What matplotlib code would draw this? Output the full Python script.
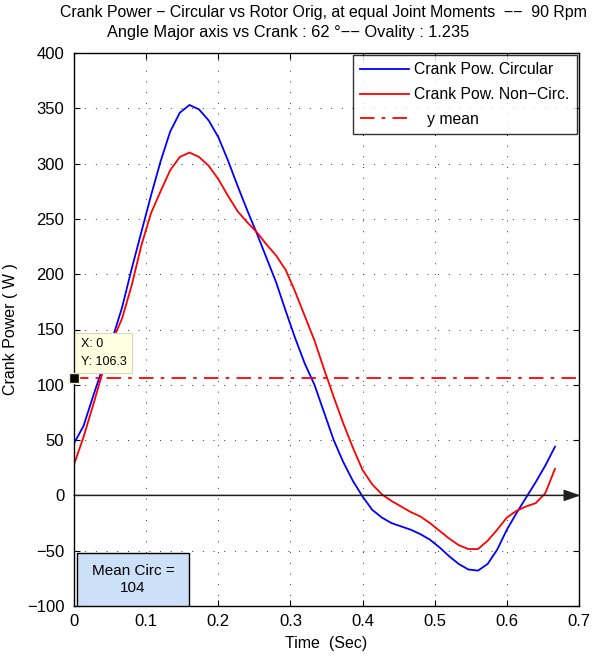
import numpy as np
import matplotlib
matplotlib.use("Agg")
import matplotlib.pyplot as plt
from matplotlib.patches import FancyBboxPatch

plt.rcParams['font.family'] = ['Liberation Sans', 'DejaVu Sans']

# ==== data (one crank revolution at 90 rpm, 51 samples)
n_samples = 51
period = 60.0 / 90.0
time = np.arange(n_samples) * period / (n_samples - 1)

pow_circular = [47, 63, 90, 116, 142, 170, 205, 238, 271, 302,
                329, 346, 353, 349, 339, 324, 303, 280, 258, 237,
                215, 193, 167, 142, 119, 100, 75, 50, 30, 13,
                -1, -13, -20, -25, -28, -31, -35, -40, -47, -55,
                -62, -67, -68, -62, -49, -31, -16, -2, 12, 27, 44]

pow_non_circ = [28, 53, 82, 112, 140, 160, 190, 226, 255, 275,
                294, 306, 310, 306, 298, 286, 271, 257, 247, 238,
                227, 217, 204, 184, 162, 140, 114, 89, 65, 43,
                23, 10, 1, -5, -10, -15, -19, -25, -32, -39,
                -45, -48.5, -48.5, -41, -31, -20, -14, -10, -7, 2, 24]

y_mean = 106.3
mean_circ = 104

legend_labels = ["Crank Pow. Circular", "Crank Pow. Non\u2212Circ.", "   y mean"]

# ==== figure
fig = plt.figure(figsize=(5.94, 6.57), dpi=100)
ax = fig.add_axes([74 / 594, 1 - 606 / 657, 505 / 594, 553 / 657])

ax.plot(time, pow_circular, color=(0, 0, 1), lw=1.3, label=legend_labels[0])
ax.plot(time, pow_non_circ, color=(1, 0, 0), lw=1.3, label=legend_labels[1])
ax.plot([0, 0.697], [y_mean, y_mean], color=(1, 0, 0), lw=1.3,
        linestyle=(0, (8, 4, 2, 4)), label=legend_labels[2])

# zero axis arrow
ax.annotate("", xy=(0.702, 0), xytext=(0, 0),
            arrowprops=dict(arrowstyle="-|>,head_length=1.0,head_width=0.35",
                            color="#202020", lw=1.1, shrinkA=0, shrinkB=0),
            annotation_clip=False)

# data tip
ax.plot([0], [y_mean], marker="s", ms=7, mfc="black", mec="#f5f5d0", mew=1.0,
        clip_on=False, zorder=6)
ax.annotate("X: 0\nY: 106.3", xy=(0, y_mean), xytext=(7, 10),
            textcoords="offset pixels", fontsize=9, ha="left", va="bottom",
            linespacing=1.6,
            bbox=dict(boxstyle="square,pad=0.45", fc="#ffffe1", ec="#d8d8c0", lw=0.8),
            zorder=7)

# mean box
box = FancyBboxPatch((0.006, 0.0), 0.222, 0.096, boxstyle="square,pad=0",
                     transform=ax.transAxes, fc="#cce0f7", ec="black", lw=1.0, zorder=5)
ax.add_patch(box)
ax.text(0.117, 0.048, "Mean Circ =\n%d" % mean_circ, transform=ax.transAxes,
        ha="center", va="center", multialignment="center", fontsize=11, zorder=6)

ax.set_xlim(0, 0.7)
ax.set_ylim(-100, 400)
ax.set_xticks(np.arange(0, 0.71, 0.1))
ax.set_xticklabels(["0", "0.1", "0.2", "0.3", "0.4", "0.5", "0.6", "0.7"])
ax.set_yticks(np.arange(-100, 401, 50))
ax.set_yticklabels([str(v).replace("-", "\u2212") for v in range(-100, 401, 50)])
ax.tick_params(direction="in", length=4, labelsize=12, top=True, right=True)
ax.tick_params(axis="y", pad=7)
ax.tick_params(axis="x", pad=6)
ax.grid(True, color="#333333", linestyle=(0, (1, 10)), lw=0.7)
for sp in ax.spines.values():
    sp.set_linewidth(1.0)

ax.set_xlabel("Time  (Sec)", fontsize=11.5, labelpad=5)
ax.set_ylabel("Crank Power ( W )", fontsize=11.5, labelpad=6)

leg = ax.legend(loc="upper right", fontsize=11.3, frameon=True, fancybox=False,
                borderaxespad=0.15, handlelength=3.1, handletextpad=0.35,
                labelspacing=0.62, borderpad=0.45)
leg.get_frame().set_edgecolor("black")
leg.get_frame().set_linewidth(1.0)

fig.text(323 / 594, 1 - 13 / 657,
         "Crank Power \u2212 Circular vs Rotor Orig, at equal Joint Moments  \u2212\u2212  90 Rpm",
         ha="center", va="center", fontsize=11.4)
fig.text(288 / 594, 1 - 32 / 657,
         "Angle Major axis vs Crank : 62 \u00b0\u2212\u2212 Ovality : 1.235",
         ha="center", va="center", fontsize=11.8)

fig.savefig("out.png", dpi=100)
